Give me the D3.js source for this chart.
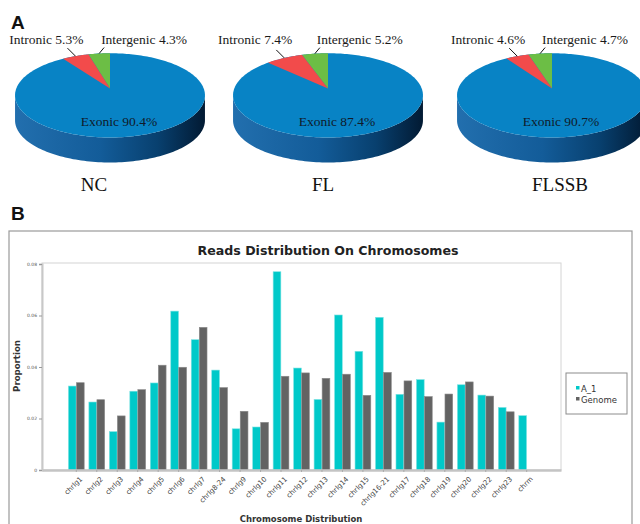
<!DOCTYPE html>
<html>
<head>
<meta charset="utf-8">
<script src="https://cdn.jsdelivr.net/npm/d3@7/dist/d3.min.js"></script>
<style>
  html, body { margin: 0; padding: 0; background: #fff; }
  svg { display: block; }
</style>
</head>
<body>
<svg id="chart" width="640" height="524"></svg>
<script>
// ---- Panel A: genomic feature composition (percent) ----
const samples = ["NC", "FL", "FLSSB"];
const exonic = [90.4, 87.4, 90.7];
const intronic = [5.3, 7.4, 4.6];
const intergenic = [4.3, 5.2, 4.7];

// ---- Panel B: reads distribution on chromosomes ----
const chromosomes = ["chrlg1", "chrlg2", "chrlg3", "chrlg4", "chrlg5", "chrlg6", "chrlg7",
  "chrlg8-24", "chrlg9", "chrlg10", "chrlg11", "chrlg12", "chrlg13", "chrlg14", "chrlg15",
  "chrlg16-21", "chrlg17", "chrlg18", "chrlg19", "chrlg20", "chrlg22", "chrlg23", "chrm"];
const a1Values = [0.0326, 0.0264, 0.0149, 0.0306, 0.0338, 0.0617, 0.0506, 0.0388, 0.0160,
  0.0167, 0.0770, 0.0396, 0.0274, 0.0602, 0.0461, 0.0593, 0.0294, 0.0351, 0.0186, 0.0331,
  0.0291, 0.0243, 0.0211];
const genomeValues = [0.0339, 0.0273, 0.0210, 0.0312, 0.0407, 0.0399, 0.0554, 0.0320, 0.0228,
  0.0185, 0.0364, 0.0377, 0.0356, 0.0372, 0.0290, 0.0379, 0.0346, 0.0285, 0.0295, 0.0342,
  0.0287, 0.0226, null];
const seriesNames = ["A_1", "Genome"];
const yTicks = [0, 0.02, 0.04, 0.06, 0.08];

const svg = d3.select("#chart");

// ================= Panel A =================
svg.append("text").attr("x", 11).attr("y", 29)
  .attr("font-family", "Liberation Sans, Arial, sans-serif").attr("font-weight", "bold")
  .attr("font-size", 19).attr("fill", "#111").text("A");

const defs = svg.append("defs");
const sideGrad = defs.append("linearGradient").attr("id", "sideGrad")
  .attr("x1", 0).attr("x2", 1).attr("y1", 0).attr("y2", 0);
[[0, "#226fae"], [0.45, "#135c99"], [0.75, "#08406f"], [1, "#021a33"]].forEach(([o, c]) =>
  sideGrad.append("stop").attr("offset", o).attr("stop-color", c));

// perspective projection of a tilted disc: angle measured from the far point, counter-clockwise
const K = 0.1625, RX = 93.7, RY = 41, DEPTH = 25;
function proj(cx, cy, theta) {
  const u = -Math.sin(theta), v = -Math.cos(theta);
  const w = 1 - K * v;
  return [cx + RX * u / w, cy + RY * v / w];
}
const pieCx = [110, 328, 552];
const pieCy = 88.5;
const nameX = [94, 323, 560];
const colors = { exonic: "#0883c5", intronic: "#f24b4b", intergenic: "#6cbe45" };
const serif = "Liberation Serif, Times New Roman, serif";

const angle = d3.scaleLinear().domain([0, 100]).range([0, 2 * Math.PI]);
const line = d3.line();

samples.forEach((name, i) => {
  const cx = pieCx[i], cy = pieCy;
  const g = svg.append("g");
  const N = 240;
  const outline = d3.range(N + 1).map(k => proj(cx, cy, 2 * Math.PI * k / N));

  // side wall: front arc of rim joined to the same arc shifted down
  let iL = 0, iR = 0;
  outline.forEach((p, k) => { if (p[0] > outline[iL][0]) iL = k; if (p[0] < outline[iR][0]) iR = k; });
  // iL: x max (right side), iR: x min (left side)
  const left = d3.range(iR, N / 2 + 1).concat(d3.range(N / 2, iL + 1))
    .filter((v, k, arr) => arr.indexOf(v) === k);
  const front = left.map(k => outline[k]);
  const sidePts = front.concat(front.slice().reverse().map(p => [p[0], p[1] + DEPTH]));
  g.append("path").attr("d", line(sidePts) + "Z").attr("fill", "url(#sideGrad)");

  // top face (exonic fills everything not covered by the other two wedges)
  g.append("path").attr("d", line(outline) + "Z").attr("fill", colors.exonic);

  const wedge = (a0, a1, col) => {
    const pts = [[cx, cy]];
    const steps = 40;
    for (let s = 0; s <= steps; s++) pts.push(proj(cx, cy, a0 + (a1 - a0) * s / steps));
    g.append("path").attr("d", line(pts) + "Z").attr("fill", col);
  };
  const gEnd = angle(intergenic[i]);
  const rEnd = angle(intergenic[i] + intronic[i]);
  wedge(0, gEnd, colors.intergenic);
  wedge(gEnd, rEnd, colors.intronic);

  // leader lines and labels
  const pInter = proj(cx, cy, angle(intergenic[i] / 2));
  const pIntr = proj(cx, cy, angle(intergenic[i] + intronic[i] / 2));
  const sInter = [pInter[0] + 5, pInter[1] - 6];
  const sIntr = [pIntr[0] - 8, pIntr[1] - 8];
  g.append("line").attr("x1", sInter[0]).attr("y1", sInter[1]).attr("x2", pInter[0]).attr("y2", pInter[1])
    .attr("stroke", "#111").attr("stroke-width", 1);
  g.append("line").attr("x1", sIntr[0]).attr("y1", sIntr[1]).attr("x2", pIntr[0]).attr("y2", pIntr[1])
    .attr("stroke", "#111").attr("stroke-width", 1);

  g.append("text").attr("x", sIntr[0] + 16).attr("y", 44).attr("text-anchor", "end")
    .attr("font-family", serif).attr("font-size", 13.5).attr("fill", "#1a1a1a")
    .text(`Intronic ${intronic[i].toFixed(1)}%`);
  g.append("text").attr("x", sInter[0] - 3).attr("y", 44).attr("text-anchor", "start")
    .attr("font-family", serif).attr("font-size", 13.5).attr("fill", "#1a1a1a")
    .text(`Intergenic ${intergenic[i].toFixed(1)}%`);
  g.append("text").attr("x", cx + 9).attr("y", 125.5).attr("text-anchor", "middle")
    .attr("font-family", serif).attr("font-size", 13.5).attr("fill", "#101a2a")
    .text(`Exonic ${exonic[i].toFixed(1)}%`);
  g.append("text").attr("x", nameX[i]).attr("y", 191).attr("text-anchor", "middle")
    .attr("font-family", serif).attr("font-size", 19).attr("fill", "#111").text(name);
});

// ================= Panel B =================
svg.append("text").attr("x", 11).attr("y", 220)
  .attr("font-family", "Liberation Sans, Arial, sans-serif").attr("font-weight", "bold")
  .attr("font-size", 19).attr("fill", "#111").text("B");

// outer frame
svg.append("rect").attr("x", 9).attr("y", 231).attr("width", 623).attr("height", 320)
  .attr("fill", "none").attr("stroke", "#9a9a9a").attr("stroke-width", 1.2);

const sans = "DejaVu Sans, Verdana, sans-serif";
const plot = { left: 42, right: 561, top: 263, bottom: 470 };

svg.append("text").attr("x", 328).attr("y", 255).attr("text-anchor", "middle")
  .attr("font-family", sans).attr("font-weight", "bold").attr("font-size", 12.6)
  .attr("fill", "#222").text("Reads Distribution On Chromosomes");

// plot frame
svg.append("rect").attr("x", plot.left).attr("y", plot.top)
  .attr("width", plot.right - plot.left).attr("height", plot.bottom - plot.top)
  .attr("fill", "#fff").attr("stroke", "#d4d4d4").attr("stroke-width", 1);

const x = d3.scaleBand().domain(chromosomes).range([plot.left, plot.right])
  .paddingInner(0.23).paddingOuter(1.29);
const xs = d3.scaleBand().domain(seriesNames).range([0, x.bandwidth()]).paddingInner(0.04);
const y = d3.scaleLinear().domain([0, 0.08]).range([plot.bottom, 264]);
const seriesColor = d3.scaleOrdinal().domain(seriesNames).range(["#00c9c9", "#636363"]);

const rows = chromosomes.map((c, i) => ({ c, vals: [a1Values[i], genomeValues[i]] }));
const groups = svg.append("g").selectAll("g").data(rows).join("g")
  .attr("transform", d => `translate(${x(d.c)},0)`);
groups.selectAll("rect")
  .data(d => d.vals.map((v, k) => ({ s: seriesNames[k], v })).filter(e => e.v != null))
  .join("rect")
  .attr("x", e => xs(e.s)).attr("width", xs.bandwidth())
  .attr("y", e => y(e.v)).attr("height", e => y(0) - y(e.v))
  .attr("fill", e => seriesColor(e.s))
  .attr("stroke", e => e.s === "A_1" ? "#7ee3e3" : "#8a8a8a").attr("stroke-width", 0.6);

// y axis
const yAxis = svg.append("g").attr("transform", `translate(${plot.left},0)`)
  .call(d3.axisLeft(y).tickValues(yTicks).tickSize(3).tickPadding(2)
    .tickFormat(d => d === 0 ? "0" : d3.format(".2f")(d)));
yAxis.select(".domain").attr("stroke", "#c8c8c8").attr("stroke-width", 2);
yAxis.selectAll(".tick line").attr("stroke", "#999");
yAxis.selectAll("text").attr("font-family", sans).attr("font-size", 4.5).attr("fill", "#555");

// x axis
const xAxis = svg.append("g").attr("transform", `translate(0,${plot.bottom})`)
  .call(d3.axisBottom(x).tickSize(2).tickSizeOuter(0));
xAxis.select(".domain").attr("stroke", "#c4c4c4").attr("stroke-width", 2.5);
xAxis.selectAll(".tick line").attr("stroke", "#aaa");
xAxis.selectAll("text")
  .attr("font-family", sans).attr("font-size", 7).attr("fill", "#444")
  .attr("text-anchor", "end").attr("dy", 0)
  .attr("transform", "translate(3,6) rotate(-45)");

// axis titles
svg.append("text").attr("transform", "translate(20,366) rotate(-90)").attr("text-anchor", "middle")
  .attr("font-family", sans).attr("font-weight", "bold").attr("font-size", 8.6)
  .attr("fill", "#333").text("Proportion");
svg.append("text").attr("x", 301).attr("y", 522).attr("text-anchor", "middle")
  .attr("font-family", sans).attr("font-weight", "bold").attr("font-size", 8.5)
  .attr("fill", "#333").text("Chromosome Distribution");

// legend
const lg = svg.append("g");
lg.append("rect").attr("x", 566).attr("y", 373).attr("width", 61).attr("height", 41)
  .attr("fill", "#fff").attr("stroke", "#8c8c8c").attr("stroke-width", 1);
seriesNames.forEach((s, k) => {
  lg.append("rect").attr("x", 576).attr("y", 386 + k * 11).attr("width", 3.5).attr("height", 3.5)
    .attr("fill", seriesColor(s));
  lg.append("text").attr("x", 581).attr("y", 392 + k * 11)
    .attr("font-family", sans).attr("font-size", 8.5).attr("fill", "#333").text(s);
});
</script>
</body>
</html>
